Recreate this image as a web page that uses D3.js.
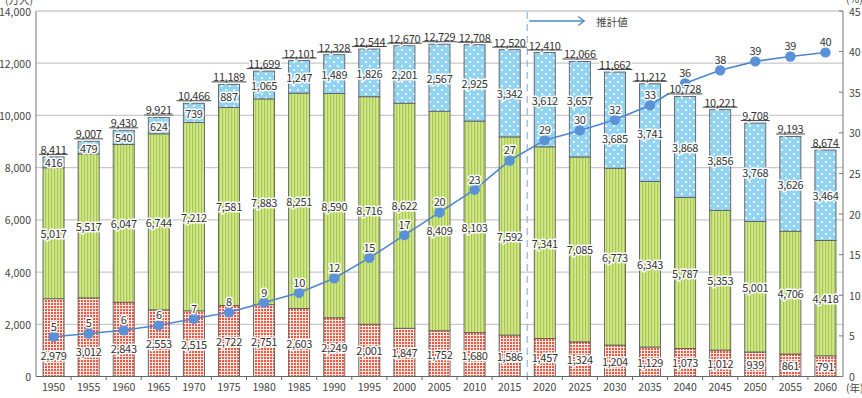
<!DOCTYPE html>
<html><head><meta charset="utf-8">
<script src="https://cdn.jsdelivr.net/npm/d3@7"></script>
<style>
html,body{margin:0;padding:0;background:#fff;}
svg{display:block;font-family:"Noto Sans CJK JP","Noto Sans",sans-serif;}
.lbl{font-size:11px;fill:#333;stroke:#fff;stroke-width:3px;paint-order:stroke;stroke-linejoin:round;text-anchor:middle;dominant-baseline:central;letter-spacing:-0.3px;}
.tick{font-size:10.5px;fill:#444;dominant-baseline:central;}
</style></head><body>
<svg id="c" width="862" height="398"></svg>
<script>
const years = [1950,1955,1960,1965,1970,1975,1980,1985,1990,1995,2000,2005,2010,2015,2020,2025,2030,2035,2040,2045,2050,2055,2060];
const young = [2979,3012,2843,2553,2515,2722,2751,2603,2249,2001,1847,1752,1680,1586,1457,1324,1204,1129,1073,1012,939,861,791];
const working = [5017,5517,6047,6744,7212,7581,7883,8251,8590,8716,8622,8409,8103,7592,7341,7085,6773,6343,5787,5353,5001,4706,4418];
const elderly = [416,479,540,624,739,887,1065,1247,1489,1826,2201,2567,2925,3342,3612,3657,3685,3741,3868,3856,3768,3626,3464];
const totals = [8411,9007,9430,9921,10466,11189,11699,12101,12328,12544,12670,12729,12708,12520,12410,12066,11662,11212,10728,10221,9708,9193,8674];
const agingRate = [4.9,5.3,5.7,6.3,7.1,7.9,9.1,10.3,12.1,14.6,17.4,20.2,23.0,26.6,29.1,30.3,31.6,33.4,36.1,37.7,38.8,39.4,39.9];
const leftTicks = [0,2000,4000,6000,8000,10000,12000,14000];
const rightTicks = [0,5,10,15,20,25,30,35,40,45];
const unitLeft = "(万人)", unitRight = "(%)", unitX = "(年)", projLabel = "推計値";
const projStartYear = 2020;

const svg = d3.select("#c");
const L = 36, R = 843, B = 376.5, T = 11;
const x = d3.scaleBand().domain(years).range([L, R]).paddingInner(0.4).paddingOuter(0.2);
const y = d3.scaleLinear().domain([0, 14000]).range([B, T]);
const y2 = d3.scaleLinear().domain([0, 45]).range([B, T]);
const fmt = d3.format(",");
const cx = d => x(d) + x.bandwidth() / 2;

// patterns
const defs = svg.append("defs");
const pr = defs.append("pattern").attr("id","pRed").attr("patternUnits","userSpaceOnUse").attr("width",3).attr("height",3);
pr.append("rect").attr("width",3).attr("height",3).attr("fill","#fde9e4");
pr.append("rect").attr("width",2).attr("height",2).attr("fill","#ee5843");
const pg = defs.append("pattern").attr("id","pGreen").attr("patternUnits","userSpaceOnUse").attr("width",3).attr("height",3);
pg.append("rect").attr("width",3).attr("height",3).attr("fill","#d0e690");
pg.append("rect").attr("width",1.2).attr("height",3).attr("fill","#a8ca48");
const pb = defs.append("pattern").attr("id","pBlue").attr("patternUnits","userSpaceOnUse").attr("width",8).attr("height",8);
pb.append("rect").attr("width",8).attr("height",8).attr("fill","#92d3f2");
pb.append("circle").attr("cx",2).attr("cy",2).attr("r",1.1).attr("fill","#fff");
pb.append("circle").attr("cx",6).attr("cy",6).attr("r",1.1).attr("fill","#fff");

// gridlines
svg.append("g").selectAll("line").data(leftTicks.filter(v => v > 0)).join("line")
  .attr("x1", L).attr("x2", R).attr("y1", d => y(d)).attr("y2", d => y(d))
  .attr("stroke", "#c9c9c9").attr("stroke-width", 1.2);

// stacked bars
const rows = years.map((yr, i) => ({year: yr, young: young[i], working: working[i], elderly: elderly[i]}));
const keys = ["young","working","elderly"];
const fills = {young: "url(#pRed)", working: "url(#pGreen)", elderly: "url(#pBlue)"};
const stack = d3.stack().keys(keys)(rows);
svg.append("g").selectAll("g").data(stack).join("g")
  .attr("fill", s => fills[s.key])
  .selectAll("rect").data(s => s).join("rect")
  .attr("x", d => x(d.data.year)).attr("width", x.bandwidth())
  .attr("y", d => y(d[1])).attr("height", d => y(d[0]) - y(d[1]))
  .attr("stroke", "#5e5e5e").attr("stroke-width", 0.9);

// projection divider
const xDiv = x(projStartYear) - x.step() * x.paddingInner() / 2;
svg.append("line").attr("x1", xDiv).attr("x2", xDiv).attr("y1", T + 1).attr("y2", B)
  .attr("stroke", "#8fb6de").attr("stroke-width", 1.2).attr("stroke-dasharray", "7,5");
svg.append("line").attr("x1", xDiv + 2).attr("x2", xDiv + 57).attr("y1", 21).attr("y2", 21)
  .attr("stroke", "#4a86c8").attr("stroke-width", 1.3);
svg.append("path").attr("d", `M${xDiv+51},16.5 L${xDiv+57},21 L${xDiv+51},25.5`)
  .attr("fill", "none").attr("stroke", "#4a86c8").attr("stroke-width", 1.3);
svg.append("text").attr("x", xDiv + 69).attr("y", 21).attr("class","tick").attr("font-size","10px").attr("fill","#333").text(projLabel);

// line
const line = d3.line().x((d, i) => cx(years[i])).y(d => y2(d));
svg.append("path").datum(agingRate).attr("d", line).attr("fill", "none")
  .attr("stroke", "#4f86cf").attr("stroke-width", 1.6);
svg.append("g").selectAll("circle").data(agingRate).join("circle")
  .attr("cx", (d, i) => cx(years[i])).attr("cy", d => y2(d)).attr("r", 5.2)
  .attr("fill", "#5b91d6");

// segment labels
function segY(mid, my) {
  if (mid > my - 24 && mid < my + 12) return mid > my - 6 ? my + 18 : my - 30;
  return mid;
}
const lg = svg.append("g");
stack.forEach(s => {
  s.forEach((d, i) => {
    const mid = (y(d[0]) + y(d[1])) / 2;
    lg.append("text").attr("class", "lbl").attr("x", cx(years[i]))
      .attr("y", segY(mid, y2(agingRate[i]))).text(fmt(d.data[s.key]));
  });
});
// percentage labels
svg.append("g").selectAll("text").data(agingRate).join("text").attr("class", "lbl")
  .attr("x", (d, i) => cx(years[i])).attr("y", d => y2(d) - 11).text(d => Math.round(d));

// totals with underline
const tg = svg.append("g");
totals.forEach((t, i) => {
  const top = y(young[i] + working[i] + elderly[i]);
  const tx = tg.append("text").attr("class", "lbl").attr("x", cx(years[i])).attr("y", top - 8).text(fmt(t));
  const w = tx.node().getComputedTextLength();
  tg.append("line").attr("x1", cx(years[i]) - w / 2 - 1.5).attr("x2", cx(years[i]) + w / 2 + 1.5)
    .attr("y1", top - 2.5).attr("y2", top - 2.5).attr("stroke", "#444").attr("stroke-width", 1);
});

// axes
svg.append("line").attr("x1", L).attr("x2", L).attr("y1", T).attr("y2", B).attr("stroke", "#8a8a8a").attr("stroke-width", 1.2);
svg.append("line").attr("x1", R).attr("x2", R).attr("y1", T).attr("y2", B).attr("stroke", "#8a8a8a").attr("stroke-width", 1.2);
svg.append("line").attr("x1", L).attr("x2", R).attr("y1", T).attr("y2", T).attr("stroke", "#c9c9c9").attr("stroke-width", 1.2);
svg.append("line").attr("x1", L).attr("x2", R).attr("y1", B).attr("y2", B).attr("stroke", "#666").attr("stroke-width", 1.2);

svg.append("g").selectAll("text").data(leftTicks).join("text").attr("class", "tick")
  .attr("x", 31).attr("y", d => y(d)).attr("text-anchor", "end").text(d => fmt(d));
svg.append("g").selectAll("line").data(rightTicks).join("line")
  .attr("x1", R - 4).attr("x2", R).attr("y1", d => y2(d)).attr("y2", d => y2(d)).attr("stroke", "#777");
svg.append("g").selectAll("text").data(rightTicks).join("text").attr("class", "tick")
  .attr("x", 849).attr("y", d => y2(d)).text(d => d);
// x ticks at band boundaries
svg.append("g").selectAll("line").data(years.slice(1)).join("line")
  .attr("x1", d => x(d) - x.step() * x.paddingInner() / 2).attr("x2", d => x(d) - x.step() * x.paddingInner() / 2)
  .attr("y1", B).attr("y2", B + 3.5).attr("stroke", "#666");
svg.append("g").selectAll("text").data(years).join("text").attr("class", "tick")
  .attr("x", d => cx(d)).attr("y", 386).attr("text-anchor", "middle").attr("fill", "#333").text(d => d);

svg.append("text").attr("class","tick").attr("x", 33).attr("y", -1).attr("font-size","10px").attr("text-anchor","end").text(unitLeft);
svg.append("text").attr("class","tick").attr("x", 846).attr("y", -1.5).attr("font-size","10px").text(unitRight);
svg.append("text").attr("class","tick").attr("x", 846).attr("y", 387).attr("font-size","10px").text(unitX);
</script>
</body></html>
